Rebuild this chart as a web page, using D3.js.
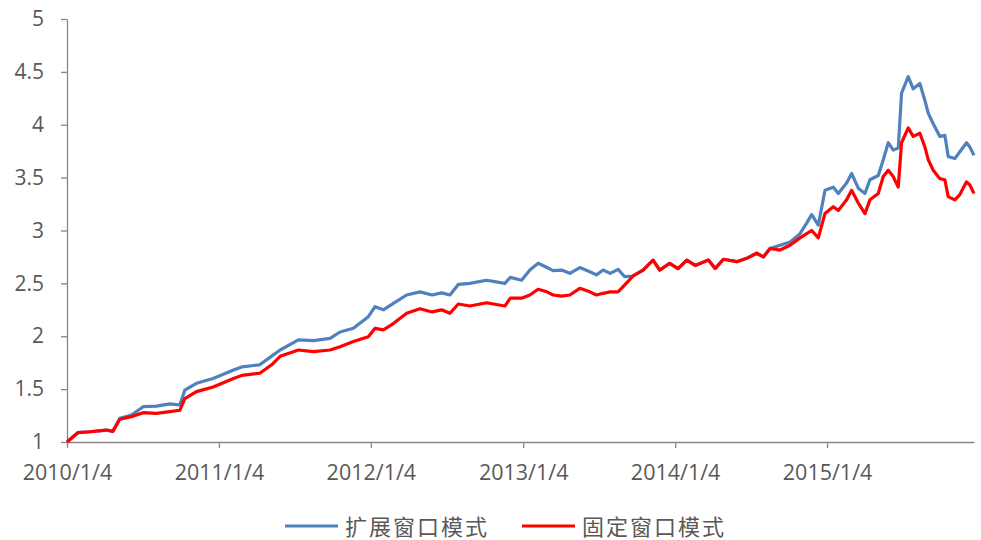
<!DOCTYPE html>
<html>
<head>
<meta charset="utf-8">
<script src="https://cdn.jsdelivr.net/npm/d3@7"></script>
<style>
  body { margin: 0; background: #fff; }
  svg text { fill: #595959; font-family: "Open Sans", "Noto Sans CJK SC", sans-serif; }
  .legend text { font-family: "Noto Sans CJK SC", sans-serif; letter-spacing: 2px; }
</style>
</head>
<body>
<svg id="chart" width="981" height="540"></svg>
<script>
// 日期（约每两三周一个读数）
var dates = [
  "2010-01-04","2010-01-30","2010-02-28","2010-04-09","2010-04-24","2010-05-11","2010-06-08","2010-07-06",
  "2010-08-07","2010-09-08","2010-10-02","2010-10-14","2010-11-11","2010-12-21","2011-02-08","2011-02-28",
  "2011-04-12","2011-05-10","2011-05-31","2011-07-14","2011-08-19","2011-09-28","2011-10-22","2011-11-23",
  "2011-12-29","2012-01-14","2012-02-03","2012-02-27","2012-03-30","2012-05-01","2012-05-30","2012-06-22",
  "2012-07-12","2012-08-01","2012-08-29","2012-10-08","2012-11-21","2012-12-04","2012-12-31","2013-01-20",
  "2013-02-09","2013-03-02","2013-03-17","2013-04-06","2013-04-26","2013-05-20","2013-06-13","2013-06-29",
  "2013-07-15","2013-08-01","2013-08-20","2013-09-05","2013-09-25","2013-10-19","2013-11-12","2013-11-28",
  "2013-12-22","2014-01-11","2014-02-01","2014-02-21","2014-03-25","2014-04-10","2014-04-30","2014-06-01",
  "2014-06-25","2014-07-19","2014-08-04","2014-08-20","2014-09-13","2014-10-07","2014-10-31","2014-11-16",
  "2014-11-28","2014-12-14","2014-12-30","2015-01-19","2015-01-31","2015-02-20","2015-03-04","2015-03-20",
  "2015-04-05","2015-04-17","2015-05-07","2015-05-19","2015-05-31","2015-06-12","2015-06-24","2015-07-02",
  "2015-07-18","2015-07-30","2015-08-15","2015-08-27","2015-09-04","2015-09-16","2015-10-02","2015-10-14",
  "2015-10-22","2015-11-07","2015-11-19","2015-12-05","2015-12-13","2015-12-23"
];

// 扩展窗口模式
var expanding = [
  1.00,1.088,1.097,1.113,1.10,1.224,1.255,1.334,
  1.34,1.36,1.35,1.49,1.555,1.60,1.68,1.71,
  1.73,1.81,1.87,1.965,1.958,1.98,2.04,2.075,
  2.185,2.28,2.25,2.31,2.39,2.42,2.39,2.41,
  2.39,2.49,2.50,2.53,2.50,2.557,2.53,2.626,
  2.69,2.65,2.62,2.626,2.595,2.65,2.61,2.58,
  2.626,2.595,2.633,2.563,2.57,2.626,2.72,2.626,
  2.69,2.64,2.72,2.67,2.72,2.64,2.728,2.705,
  2.737,2.785,2.75,2.83,2.86,2.89,2.97,3.07,
  3.15,3.05,3.38,3.41,3.35,3.45,3.54,3.40,
  3.35,3.48,3.52,3.67,3.83,3.76,3.78,4.30,
  4.455,4.34,4.39,4.23,4.11,4.01,3.89,3.90,
  3.70,3.68,3.745,3.83,3.79,3.71
];

// 固定窗口模式
var fixed = [
  1.00,1.088,1.097,1.113,1.10,1.215,1.24,1.277,
  1.27,1.287,1.30,1.41,1.476,1.52,1.60,1.63,
  1.65,1.728,1.81,1.87,1.854,1.87,1.90,1.95,
  1.995,2.075,2.06,2.12,2.217,2.26,2.23,2.25,
  2.217,2.305,2.286,2.317,2.286,2.36,2.36,2.39,
  2.444,2.42,2.39,2.38,2.39,2.453,2.42,2.39,
  2.406,2.42,2.42,2.485,2.57,2.626,2.72,2.626,
  2.69,2.64,2.72,2.67,2.72,2.64,2.728,2.705,
  2.737,2.785,2.75,2.83,2.815,2.86,2.93,2.97,
  3.00,2.93,3.16,3.225,3.19,3.29,3.38,3.26,
  3.16,3.29,3.35,3.51,3.57,3.51,3.41,3.83,
  3.97,3.89,3.92,3.79,3.67,3.57,3.49,3.48,
  3.32,3.29,3.34,3.46,3.43,3.35
];

var yTicks = [1, 1.5, 2, 2.5, 3, 3.5, 4, 4.5, 5];
var xTickDates = ["2010-01-04","2011-01-04","2012-01-04","2013-01-04","2014-01-04","2015-01-04"];
var seriesNames = ["扩展窗口模式", "固定窗口模式"];
var seriesColors = ["#4F81BD", "#FF0000"];

var parse = d3.timeParse("%Y-%m-%d");
var fmt = d3.timeFormat("%Y/%-m/%-d");
var dt = dates.map(parse);

var svg = d3.select("#chart");
var plotLeft = 67, plotRight = 974, plotTop = 19, plotBottom = 442;

var x = d3.scaleTime().domain([dt[0], dt[dt.length - 1]]).range([plotLeft, plotRight]);
var y = d3.scaleLinear().domain([1, 5]).range([plotBottom, plotTop]);

// axes
var xAxis = svg.append("g")
    .attr("transform", "translate(0," + plotBottom + ")")
    .call(d3.axisBottom(x)
      .tickValues(xTickDates.map(parse))
      .tickFormat(fmt)
      .tickSizeInner(6).tickSizeOuter(0).tickPadding(17));

var yAxis = svg.append("g")
    .attr("transform", "translate(" + plotLeft + ",0)")
    .call(d3.axisLeft(y)
      .tickValues(yTicks)
      .tickFormat(d3.format("~g"))
      .tickSizeInner(6).tickSizeOuter(0).tickPadding(17));

svg.selectAll(".domain, .tick line").attr("stroke", "#878787").attr("stroke-width", 1.3);
xAxis.selectAll("text").attr("font-size", 21.5).style("fill", "#595959");
yAxis.selectAll("text").attr("font-size", 21).style("fill", "#595959");

// lines
var series = [expanding, fixed];
series.forEach(function(vals, i) {
  var line = d3.line()
      .x(function(d, j) { return x(dt[j]); })
      .y(function(d) { return y(d); });
  svg.append("path")
      .datum(vals)
      .attr("d", line)
      .attr("fill", "none")
      .attr("stroke", seriesColors[i])
      .attr("stroke-width", 3.2)
      .attr("stroke-linejoin", "round");
});

// legend
var legend = svg.append("g").attr("class", "legend");
var legendX = [285, 522];
seriesNames.forEach(function(name, i) {
  legend.append("line")
      .attr("x1", legendX[i]).attr("x2", legendX[i] + 53)
      .attr("y1", 526).attr("y2", 526)
      .attr("stroke", seriesColors[i])
      .attr("stroke-width", 3);
  legend.append("text")
      .attr("x", legendX[i] + 60)
      .attr("y", 525)
      .attr("dominant-baseline", "central")
      .attr("font-size", 22)
      .text(name);
});
</script>
</body>
</html>
